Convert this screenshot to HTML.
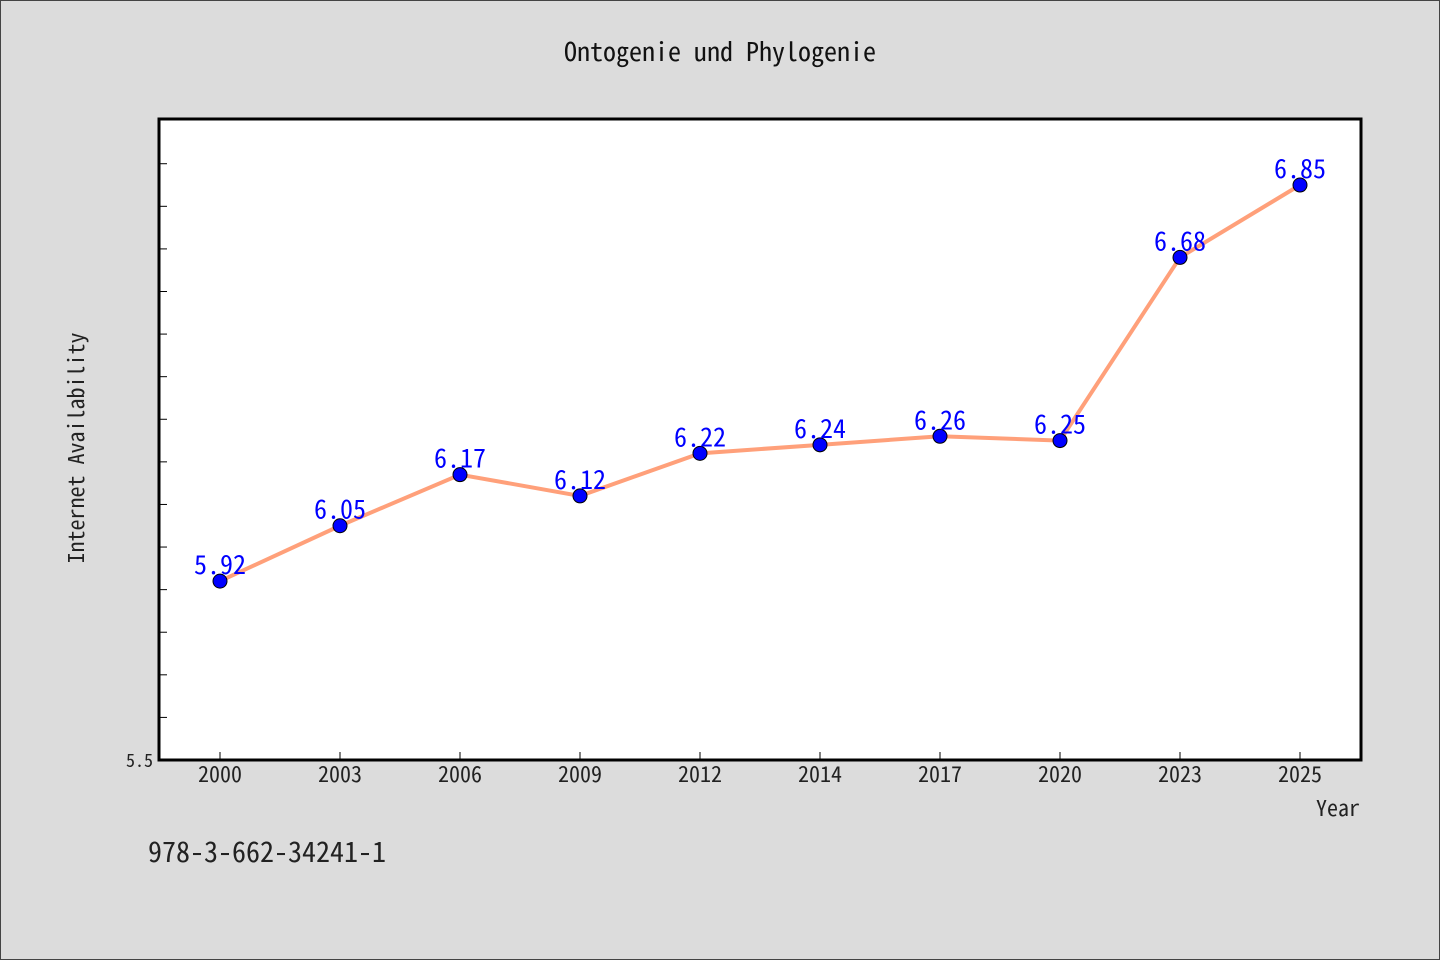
<!DOCTYPE html>
<html><head><meta charset="utf-8"><style>
html,body{margin:0;padding:0;background:#dcdcdc;overflow:hidden;width:1440px;height:960px;}
svg{display:block;}
svg text{font-family:"WenQuanYi Zen Hei Mono","Noto Sans Mono CJK SC","Liberation Mono",monospace;}
</style></head><body>
<svg width="1440" height="960" xmlns="http://www.w3.org/2000/svg">
<rect x="0.5" y="0.5" width="1439" height="959" fill="#dcdcdc" stroke="#444"/>
<text x="720" y="61" font-size="26" text-anchor="middle" fill="#111">Ontogenie und Phylogenie</text>
<rect x="159" y="119" width="1202" height="641" fill="#fff" stroke="#000" stroke-width="3"/>
<g id="ticks"></g>
<text x="153" y="767" font-size="18" text-anchor="end" fill="#222">5.5</text>
<text transform="translate(84,448) rotate(-90)" font-size="22" text-anchor="middle" fill="#222">Internet Availability</text>
<text x="1360" y="816" font-size="22" text-anchor="end" fill="#222">Year</text>
<text x="148" y="862" font-size="28" fill="#222">978-3-662-34241-1</text>
<g id="marks"></g>
</svg>
<script>
const categories=["2000","2003","2006","2009","2012","2014","2017","2020","2023","2025"];
const values=[5.92,6.05,6.17,6.12,6.22,6.24,6.26,6.25,6.68,6.85];
const labels=["5.92","6.05","6.17","6.12","6.22","6.24","6.26","6.25","6.68","6.85"];
const yMin=5.5,yMax=7.005;
const NS="http://www.w3.org/2000/svg";
function x(i){return 220+i*120;}
function y(v){return 760-(v-yMin)/(yMax-yMin)*641;}
function mk(t,a,p){const e=document.createElementNS(NS,t);for(const k in a)e.setAttribute(k,a[k]);p.appendChild(e);return e;}
const tg=document.getElementById('ticks'),mg=document.getElementById('marks');
for(let k=1;k<=14;k++){const yy=y(yMin+k*0.1);const t=mk('line',{x1:159,x2:167,y1:yy,y2:yy,stroke:'#000','stroke-width':1},tg);

}
categories.forEach((c,i)=>{const t=mk('line',{x1:x(i),x2:x(i),y1:752,y2:760,stroke:'#000','stroke-width':1},tg);


const l=mk('text',{x:x(i),y:782,'font-size':22,'text-anchor':'middle',fill:'#222'},tg);l.textContent=c;

});
const line=mk('polyline',{points:values.map((v,i)=>x(i)+','+y(v)).join(' '),fill:'none',stroke:'#ffa07a','stroke-width':4},mg);


values.forEach((v,i)=>{const p=mk('circle',{cx:x(i),cy:y(v),r:7,fill:'#0000ff',stroke:'#000','stroke-width':1},mg);


const t=mk('text',{x:x(i),y:y(v)-7,'font-size':26,'text-anchor':'middle',fill:'#0000ff'},mg);t.textContent=labels[i];

});
</script>
</body></html>
